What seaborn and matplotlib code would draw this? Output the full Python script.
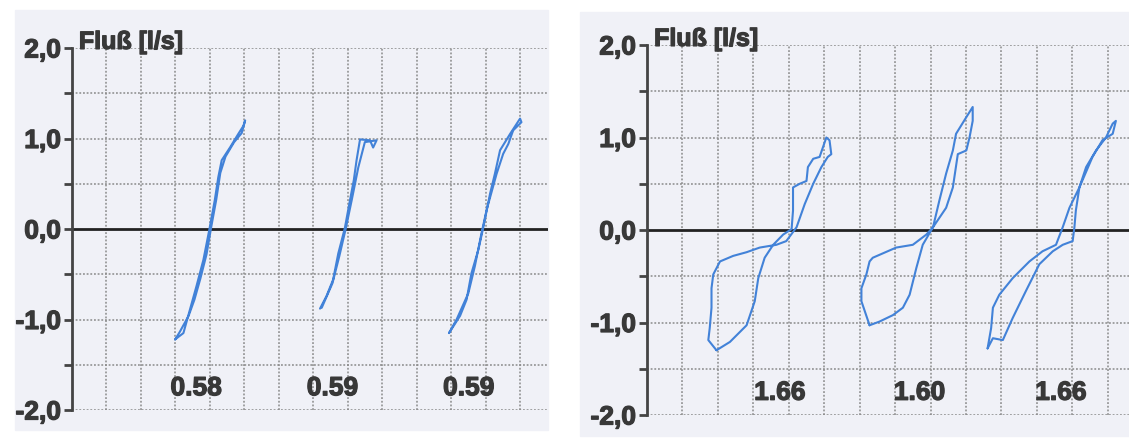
import numpy as np
import pandas as pd
import matplotlib
matplotlib.use("Agg")
import matplotlib.pyplot as plt
import matplotlib.patheffects as pe
import seaborn as sns
from matplotlib.patches import Rectangle

# --- data (x in grid units, y = flow in l/s) ---
# left panel: three narrow loops
l1_x = [2.99, 3.23, 3.42, 3.61, 3.81, 3.98, 4.14, 4.24, 4.34, 4.58, 4.82, 4.97, 5.02,
        4.92, 4.70, 4.45, 4.30, 4.18, 4.04, 3.90, 3.72, 3.55, 3.38, 3.12, 2.99]
l1_y = [-1.22, -1.15, -0.89, -0.63, -0.34, -0.01, 0.32, 0.57, 0.76, 0.90, 1.05, 1.14, 1.20,
        1.06, 0.96, 0.80, 0.62, 0.32, 0.03, -0.28, -0.55, -0.78, -0.96, -1.14, -1.22]
l2_x = [7.19, 7.38, 7.57, 7.72, 7.91, 8.06, 8.17, 8.25, 8.35, 8.64, 8.73, 8.83,
        8.49, 8.30, 8.11, 7.94, 7.75, 7.55, 7.24]
l2_y = [-0.88, -0.74, -0.56, -0.27, 0.01, 0.32, 0.54, 0.76, 0.99, 0.98, 0.90, 0.98,
        0.96, 0.68, 0.32, 0.01, -0.30, -0.60, -0.87]
l3_x = [10.93, 11.25, 11.44, 11.58, 11.78, 11.92, 12.12, 12.26, 12.41, 12.70, 12.99, 13.03,
        12.79, 12.65, 12.50, 12.31, 12.02, 11.87, 11.68, 11.49, 11.15, 10.93]
l3_y = [-1.15, -0.96, -0.78, -0.49, -0.23, 0.01, 0.39, 0.61, 0.87, 1.05, 1.22, 1.18,
        1.09, 0.94, 0.83, 0.61, 0.21, -0.05, -0.41, -0.71, -1.00, -1.15]

# right panel: three wide loops
r1_x = [1.96, 2.34, 2.81, 3.04, 3.14, 3.32, 3.56, 3.84, 4.08, 4.12, 4.12, 4.31, 4.50, 4.54,
        4.69, 4.87, 5.06, 5.15, 5.20, 5.10, 4.92, 4.69, 4.45, 4.22, 3.93, 3.65, 3.18, 2.81,
        2.43, 2.06, 1.87, 1.82, 1.82, 1.77, 1.73, 1.96]
r1_y = [-1.30, -1.21, -1.03, -0.77, -0.52, -0.30, -0.16, -0.05, 0.01, 0.21, 0.46, 0.50,
        0.53, 0.68, 0.77, 0.79, 1.00, 0.97, 0.82, 0.79, 0.68, 0.50, 0.28, 0.03, -0.12,
        -0.16, -0.19, -0.24, -0.28, -0.34, -0.48, -0.63, -0.84, -1.06, -1.19, -1.30]
r2_x = [6.28, 6.05, 6.05, 6.19, 6.28, 6.37, 7.03, 7.50, 7.88, 8.07, 8.25, 8.44, 8.63, 8.72,
        9.01, 9.19, 9.19, 9.10, 9.01, 8.77, 8.63, 8.44, 8.07, 7.78, 7.60, 7.41, 7.22, 6.94,
        6.56, 6.28]
r2_y = [-1.03, -0.77, -0.63, -0.48, -0.34, -0.30, -0.19, -0.16, -0.05, 0.03, 0.32, 0.61,
        0.86, 1.04, 1.22, 1.33, 1.18, 1.00, 0.86, 0.82, 0.46, 0.24, 0.03, -0.16, -0.41,
        -0.70, -0.84, -0.92, -0.99, -1.03]
r3_x = [9.61, 9.76, 10.04, 10.32, 10.69, 11.07, 11.45, 11.73, 12.01, 12.06, 12.10, 12.20,
        12.39, 12.67, 12.95, 13.14, 13.23, 13.14, 12.85, 12.57, 12.20, 11.92, 11.73, 11.54,
        11.16, 10.79, 10.32, 9.94, 9.76, 9.71, 9.61]
r3_y = [-1.28, -1.17, -1.19, -0.95, -0.66, -0.37, -0.23, -0.16, -0.12, 0.03, 0.21, 0.46,
        0.68, 0.86, 1.00, 1.15, 1.18, 1.04, 0.97, 0.79, 0.46, 0.24, 0.03, -0.16, -0.23,
        -0.34, -0.52, -0.70, -0.84, -1.06, -1.28]

left_values = ["0.58", "0.59", "0.59"]
left_value_x = [3.6, 7.55, 11.5]
right_values = ["1.66", "1.60", "1.66"]
right_value_x = [3.75, 7.69, 11.68]

y_ticks = [-2.0, -1.5, -1.0, -0.5, 0.0, 0.5, 1.0, 1.5, 2.0]
y_labels = ["-2,0", "", "-1,0", "", "0,0", "", "1,0", "", "2,0"]

loop_color = "#4282d8"
ink = "#383838"
paper = "#f0f1f7"
heavy = [pe.withStroke(linewidth=0.9, foreground=ink)]

sns.set_style("white")
plt.rcParams['font.family'] = ['Liberation Sans', 'DejaVu Sans']

fig = plt.figure(figsize=(11.29, 4.41), dpi=100)
fig.patch.set_facecolor("white")

# paper sheets of the two scans
fig.patches.append(Rectangle((15 / 1129, 1 - 430 / 441), 533 / 1129, 420 / 441,
                             transform=fig.transFigure, color=paper, zorder=-10))
fig.patches.append(Rectangle((580 / 1129, 1 - 436 / 441), 549 / 1129, 424 / 441,
                             transform=fig.transFigure, color=paper, zorder=-10))

ax_l = fig.add_axes([72 / 1129, 31 / 441, 476 / 1129, 362 / 441])
ax_r = fig.add_axes([647 / 1129, 26 / 441, 482 / 1129, 370 / 441])


def draw_panel(ax, loops, xmax, values, value_x):
    ax.patch.set_alpha(0)
    for gx in range(1, int(xmax) + 1):
        ax.axvline(gx, color="#8a8a8a", lw=1.1, ls=(0, (1.2, 1.2)), zorder=1)
    for gy in y_ticks:
        if gy != 0.0:
            ax.axhline(gy, color="#8a8a8a", lw=1.1, ls=(0, (1.2, 1.2)), zorder=1)
    ax.axhline(0.0, color="#222222", lw=2.0, zorder=2)

    for lx, ly in loops:
        df = pd.DataFrame({"x": lx, "y": ly})
        sns.lineplot(data=df, x="x", y="y", sort=False, estimator=None,
                     color=loop_color, lw=1.5, ax=ax, zorder=3)

    for txt, vx in zip(values, value_x):
        ax.text(vx, -1.76, txt, ha="center", va="center", fontsize=19,
                fontweight="bold", color=ink, path_effects=heavy)

    ax.set_xlim(0, xmax)
    ax.set_ylim(-2.0, 2.0)
    ax.set_xticks([])
    ax.set_yticks(y_ticks)
    ax.set_yticklabels(y_labels, fontsize=19, fontweight="bold", color=ink)
    for lab in ax.get_yticklabels():
        lab.set_path_effects(heavy)
    ax.tick_params(axis="y", length=6, width=2, color="#444444", pad=2, left=True)
    ax.set_xlabel("")
    ax.set_ylabel("")
    for side in ["top", "right", "bottom"]:
        ax.spines[side].set_visible(False)
    ax.spines["left"].set_color("#444444")
    ax.spines["left"].set_linewidth(2)
    ax.spines["left"].set_zorder(4)
    ax.text(0.2, 1.99, "Fluß [l/s]", ha="left", va="baseline", fontsize=18,
            fontweight="bold", color=ink, clip_on=False, path_effects=heavy)


draw_panel(ax_l, [(l1_x, l1_y), (l2_x, l2_y), (l3_x, l3_y)], 13.8,
           left_values, left_value_x)
draw_panel(ax_r, [(r1_x, r1_y), (r2_x, r2_y), (r3_x, r3_y)], 13.6,
           right_values, right_value_x)

fig.savefig("out.png", dpi=100, facecolor=fig.get_facecolor())
